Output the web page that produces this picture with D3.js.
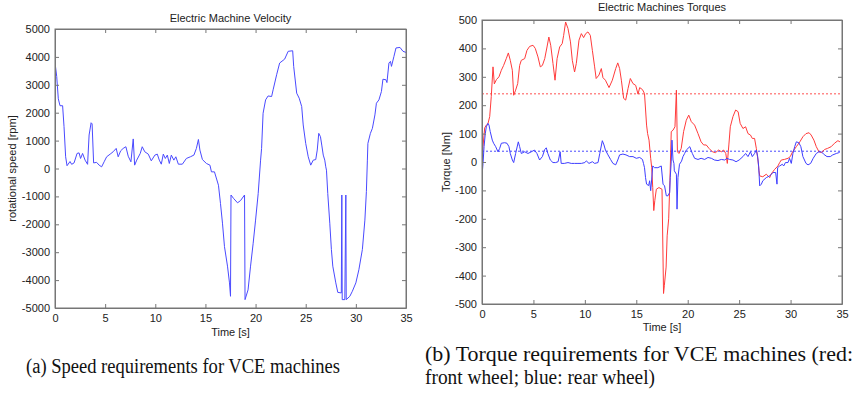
<!DOCTYPE html>
<html>
<head>
<meta charset="utf-8">
<script src="https://cdn.jsdelivr.net/npm/d3@7"></script>
<style>
  body { margin: 0; background: #fff; }
  svg { display: block; }
  .tick text { font-family: "Liberation Sans", Arial, sans-serif; font-size: 11px; fill: #222; }
  .lbl { font-family: "Liberation Sans", Arial, sans-serif; font-size: 11px; fill: #222; }
  .cap { font-family: "Liberation Serif", "Times New Roman", serif; fill: #111; }
</style>
</head>
<body>
<script>
// time ticks shared by both panels
const timeTicks = [0, 5, 10, 15, 20, 25, 30, 35];
const speedTicks = [-5000, -4000, -3000, -2000, -1000, 0, 1000, 2000, 3000, 4000, 5000];
const torqueTicks = [-500, -400, -300, -200, -100, 0, 100, 200, 300, 400, 500];

// machine velocity [s, rpm]
const velocity = [
  [0, 4000], [0.05, 3650], [0.17, 3300], [0.33, 2500], [0.5, 2250], [0.76, 2250], [0.9, 1500],
  [1.06, 420], [1.2, 100], [1.5, 250], [1.66, 150], [1.9, 200], [2.2, 540], [2.4, 560],
  [2.55, 360], [2.75, 540], [3.0, 300], [3.25, 150], [3.4, 1200], [3.6, 1640], [3.7, 1600],
  [3.85, 200], [4.15, 220], [4.4, 120], [4.65, 60], [4.9, 240], [5.15, 420], [5.5, 515],
  [5.8, 600], [6.1, 720], [6.3, 420], [6.55, 635], [6.8, 720], [7.07, 780], [7.3, 440],
  [7.57, 240], [7.8, 1060], [7.94, 120], [8.15, 300], [8.5, 540], [8.7, 780], [8.95, 600],
  [9.3, 515], [9.6, 275], [9.96, 480], [10.2, 515], [10.4, 300], [10.6, 155], [10.8, 515],
  [11.0, 360], [11.2, 480], [11.4, 180], [11.6, 480], [11.85, 300], [12.05, 420], [12.3, 155],
  [12.7, 155], [13.1, 360], [13.5, 420], [13.85, 480], [14.1, 720], [14.3, 1040], [14.45, 660],
  [14.7, 320], [15.1, 180], [15.45, 120], [15.6, -120], [15.9, -120], [16.3, -600],
  [16.5, -1250], [16.7, -1960], [16.9, -2800], [17.2, -3500], [17.4, -4100], [17.5, -4580],
  [17.55, -950], [17.8, -1070], [18.2, -1230], [18.5, -1150], [18.9, -950], [18.95, -4700],
  [19.25, -4350], [19.5, -3500], [19.76, -2680], [20.0, -1850], [20.26, -900], [20.5, 300],
  [20.6, 720], [20.75, 1980], [21.0, 2460], [21.25, 2600], [21.6, 2580], [21.75, 2820],
  [22.1, 3360], [22.4, 3780], [22.9, 3920], [23.25, 4200], [23.7, 4220], [23.8, 3660],
  [24.1, 2700], [24.35, 2520], [24.6, 2220], [24.75, 1560], [25.0, 900], [25.25, 420],
  [25.5, 120], [25.75, 300], [26.0, 320], [26.15, 660], [26.3, 1260], [26.47, 1140],
  [26.6, 840], [26.75, 480], [26.9, 300], [27.0, 60], [27.07, -60], [27.2, -900],
  [27.4, -1960], [27.56, -2900], [27.7, -3500], [28.0, -4100], [28.2, -4440], [28.55, -4460],
  [28.6, -950], [28.64, -4700], [28.9, -4700], [29.0, -950], [29.04, -4700], [29.4, -4580],
  [29.65, -4400], [30.0, -4100], [30.3, -3630], [30.65, -2900], [30.9, -1850], [31.05, -830],
  [31.15, 300], [31.2, 900], [31.45, 1260], [31.65, 1440], [31.9, 1920], [32.05, 2340],
  [32.3, 2460], [32.55, 2760], [32.7, 3200], [33.0, 3180], [33.1, 3080], [33.3, 3780],
  [33.45, 3840], [33.55, 3660], [33.8, 4020], [34.0, 4320], [34.4, 4340], [34.7, 4200],
  [35.0, 4160]
];

// front wheel torque [s, Nm] (red)
const torqueFront = [
  [0, 0], [0.1, 55], [0.26, 120], [0.42, 130], [0.58, 135], [0.75, 160], [0.9, 230],
  [1.07, 335], [1.2, 275], [1.4, 290], [1.65, 300], [1.88, 323], [2.1, 340], [2.37, 365],
  [2.56, 384], [2.75, 358], [2.95, 323], [3.08, 235], [3.27, 253], [3.47, 276], [3.66, 340],
  [3.82, 358], [4.15, 364], [4.37, 393], [4.63, 407], [4.96, 411], [5.18, 400], [5.44, 370],
  [5.67, 335], [5.87, 340], [6.1, 364], [6.32, 405], [6.5, 440], [6.68, 411], [6.9, 347],
  [7.1, 288], [7.3, 364], [7.55, 405], [7.8, 417], [7.94, 446], [8.13, 493], [8.36, 470],
  [8.6, 423], [8.78, 358], [9.0, 317], [9.17, 347], [9.43, 429], [9.66, 452], [9.88, 438],
  [10.08, 452], [10.3, 458], [10.53, 446], [10.73, 393], [10.95, 335], [11.1, 294],
  [11.37, 306], [11.6, 329], [11.76, 297], [12.0, 288], [12.35, 262], [12.67, 288],
  [13.0, 329], [13.2, 349], [13.38, 329], [13.55, 288], [13.77, 224], [13.97, 218],
  [14.2, 259], [14.42, 294], [14.68, 276], [14.94, 270], [15.17, 239], [15.33, 262],
  [15.6, 255], [15.8, 241], [16.0, 130], [16.1, 100], [16.24, 77], [16.4, 13], [16.5, -20],
  [16.6, -90], [16.7, -171], [16.8, -136], [16.95, -96], [17.2, -90], [17.5, -96],
  [17.65, -463], [17.73, -434], [17.9, -370], [18.0, -260], [18.15, -200], [18.27, -66],
  [18.4, 107], [18.57, 112], [18.76, 124], [18.9, 253], [19.0, 36], [19.15, 30], [19.37, 48],
  [19.6, 107], [19.86, 147], [20.1, 165], [20.35, 142], [20.67, 130], [21.0, 100],
  [21.3, 71], [21.55, 60], [21.8, 60], [22.07, 48], [22.4, 36], [22.7, 33], [23.0, 42],
  [23.27, 36], [23.5, 42], [23.7, 30], [23.85, -5], [24.0, 60], [24.14, 124], [24.4, 160],
  [24.66, 183], [24.9, 177], [25.1, 136], [25.37, 118], [25.63, 124], [25.86, 100],
  [26.1, 95], [26.28, 83], [26.5, 83], [26.67, 48], [26.83, 7], [26.93, -31], [27.0, -49],
  [27.3, -52], [27.64, -43], [27.97, -55], [28.1, -43], [28.45, -26], [28.77, -14],
  [28.94, -2], [29.1, 7], [29.4, 9], [29.75, 13], [29.97, 19], [30.2, 36], [30.56, 54],
  [30.9, 71], [31.2, 89], [31.5, 100], [31.8, 103], [32.0, 95], [32.27, 77], [32.5, 54],
  [32.76, 36], [33.0, 33], [33.3, 44], [33.6, 48], [33.95, 54], [34.27, 66], [34.6, 75],
  [34.8, 71]
];

// rear wheel torque [s, Nm] (blue)
const torqueRear = [
  [0, -50], [0.1, -5], [0.2, 54], [0.32, 100], [0.42, 124], [0.58, 136], [0.68, 130],
  [0.8, 107], [1.0, 77], [1.13, 66], [1.33, 54], [1.55, 36], [1.72, 48], [1.88, 66],
  [2.2, 68], [2.43, 66], [2.62, 54], [2.75, 30], [2.95, 7], [3.08, -2], [3.27, 30],
  [3.53, 71], [3.66, 54], [3.82, 30], [4.15, 36], [4.47, 30], [4.8, 36], [5.1, 42],
  [5.34, 30], [5.6, 7], [5.87, 19], [6.1, 44], [6.25, 50], [6.4, 30], [6.64, 7], [6.9, -2],
  [7.16, -2], [7.4, 1], [7.6, 36], [7.7, -5], [8.0, -5], [8.36, -2], [8.68, -5], [9.0, -5],
  [9.33, -5], [9.66, -5], [10.0, -2], [10.14, 4], [10.4, -5], [10.73, 1], [10.95, -5],
  [11.28, -2], [11.45, 30], [11.7, 75], [11.86, 60], [12.0, 42], [12.25, 25], [12.5, 9],
  [12.73, -5], [13.0, -10], [13.2, 7], [13.38, 25], [13.7, 28], [14.0, 25], [14.35, 19],
  [14.68, 19], [15.0, 13], [15.33, 16], [15.6, 9], [15.7, -5], [15.8, -20], [15.9, -55],
  [16.0, -78], [16.2, -83], [16.3, -66], [16.4, -101], [16.5, -60], [16.6, -14],
  [16.78, -20], [17.1, -20], [17.43, -14], [17.6, -78], [17.75, -84], [17.92, -119],
  [18.08, -119], [18.25, -107], [18.3, -55], [18.4, 3], [18.47, 77], [18.57, 7],
  [18.66, -5], [18.7, -31], [18.9, -43], [18.96, -166], [19.05, -55], [19.2, -8],
  [19.4, 3], [19.54, 19], [19.7, 30], [19.86, 42], [20.2, 54], [20.45, 30], [20.67, 13],
  [21.0, 9], [21.3, 13], [21.65, 9], [21.97, 16], [22.3, 13], [22.6, 7], [22.94, 5],
  [23.27, 9], [23.6, 7], [23.8, 13], [24.07, 9], [24.4, 7], [24.7, 1], [25.0, 7],
  [25.37, 19], [25.63, 30], [25.86, 19], [26.1, 36], [26.28, 19], [26.5, 30], [26.67, 42],
  [26.8, 19], [26.9, -16], [27.0, -84], [27.16, -78], [27.3, -66], [27.64, -55],
  [27.97, -49], [28.3, -37], [28.55, -37], [28.68, -78], [28.74, -20], [28.94, -14],
  [29.2, -8], [29.33, -14], [29.5, -2], [29.75, -2], [29.9, 13], [30.07, -5], [30.23, 30],
  [30.4, 54], [30.56, 71], [30.8, 68], [31.0, 54], [31.2, 19], [31.5, -5], [31.7, -10],
  [31.95, -5], [32.2, 13], [32.5, 30], [32.76, 36], [33.0, 36], [33.2, 28], [33.54, 19],
  [33.86, 19], [34.1, 25], [34.45, 30], [34.7, 33], [34.8, 36]
];

// reference levels (dotted)
const frontRef = 240;
const rearRef = 38;

const svg = d3.select("body").append("svg")
  .attr("width", 857)
  .attr("height", 393);

function panel(cfg) {
  const g = svg.append("g").attr("transform", `translate(${cfg.left},${cfg.top})`);
  const x = d3.scaleLinear().domain([0, 35]).range([0, cfg.w]);
  const y = d3.scaleLinear().domain(cfg.yDomain).range([cfg.h, 0]);

  const line = d3.line().x(d => x(d[0])).y(d => y(d[1]));
  const plain = d => String(d);

  // clip so lines stay inside box
  const clipId = "clip" + cfg.left;
  g.append("clipPath").attr("id", clipId)
    .append("rect").attr("width", cfg.w).attr("height", cfg.h);

  const plot = g.append("g").attr("clip-path", `url(#${clipId})`);

  (cfg.refs || []).forEach(r => {
    plot.append("line")
      .attr("x1", 0).attr("x2", cfg.w)
      .attr("y1", y(r.v)).attr("y2", y(r.v))
      .attr("stroke", r.color).attr("stroke-width", 1)
      .attr("stroke-dasharray", "2,2");
  });

  cfg.series.forEach(s => {
    plot.append("path")
      .datum(s.data)
      .attr("fill", "none")
      .attr("stroke", s.color)
      .attr("stroke-width", 1)
      .attr("d", line);
  });

  // matlab style axes: ticks inward on all four sides
  const tk = 4;
  const axes = [
    g.append("g").attr("transform", `translate(0,${cfg.h})`)
      .call(d3.axisBottom(x).tickValues(timeTicks).tickFormat(plain).tickSizeInner(-tk).tickSizeOuter(0).tickPadding(6)),
    g.append("g")
      .call(d3.axisTop(x).tickValues(timeTicks).tickSizeInner(-tk).tickSizeOuter(0).tickFormat("")),
    g.append("g")
      .call(d3.axisLeft(y).tickValues(cfg.yTicks).tickFormat(plain).tickSizeInner(-tk).tickSizeOuter(0).tickPadding(5)),
    g.append("g").attr("transform", `translate(${cfg.w},0)`)
      .call(d3.axisRight(y).tickValues(cfg.yTicks).tickSizeInner(-tk).tickSizeOuter(0).tickFormat(""))
  ];
  axes.forEach(a => {
    a.select(".domain").attr("stroke", "#777");
    a.selectAll(".tick line").attr("stroke", "#777");
  });

  g.append("rect")
    .attr("width", cfg.w).attr("height", cfg.h)
    .attr("fill", "none").attr("stroke", "#777");

  g.append("text").attr("class", "lbl")
    .attr("x", cfg.w / 2).attr("y", cfg.titleY)
    .attr("text-anchor", "middle").text(cfg.title);

  g.append("text").attr("class", "lbl")
    .attr("x", cfg.w / 2).attr("y", cfg.h + cfg.xLabelDy)
    .attr("text-anchor", "middle").text("Time [s]");

  g.append("text").attr("class", "lbl")
    .attr("transform", `translate(${cfg.yLabelX},${cfg.h / 2}) rotate(-90)`)
    .attr("text-anchor", "middle").text(cfg.yLabel);
}

panel({
  left: 55, top: 29, w: 351, h: 279,
  yDomain: [-5000, 5000], yTicks: speedTicks,
  title: "Electric Machine Velocity", titleY: -7,
  xLabelDy: 28, yLabelX: -39,
  yLabel: "rotational speed [rpm]",
  series: [{ data: velocity, color: "#4a4aff" }]
});

panel({
  left: 482, top: 20, w: 360, h: 284,
  yDomain: [-500, 500], yTicks: torqueTicks,
  title: "Electric Machines Torques", titleY: -9,
  xLabelDy: 27, yLabelX: -32,
  yLabel: "Torque [Nm]",
  refs: [{ v: frontRef, color: "#ff5050" }, { v: rearRef, color: "#4a4aff" }],
  series: [
    { data: torqueFront, color: "#ff3b3b" },
    { data: torqueRear, color: "#3e3eff" }
  ]
});

// captions
function caption(txt, x, y, size, len) {
  svg.append("text").attr("class", "cap")
    .attr("x", x).attr("y", y)
    .style("font-size", size + "px")
    .attr("textLength", len).attr("lengthAdjust", "spacingAndGlyphs")
    .text(txt);
}
caption("(a)  Speed requirements for VCE machines", 26, 373, 20, 314);
caption("(b)  Torque requirements for VCE machines (red:", 425, 361, 21, 428);
caption("front wheel; blue: rear wheel)", 425, 384, 21, 230);
</script>
</body>
</html>
